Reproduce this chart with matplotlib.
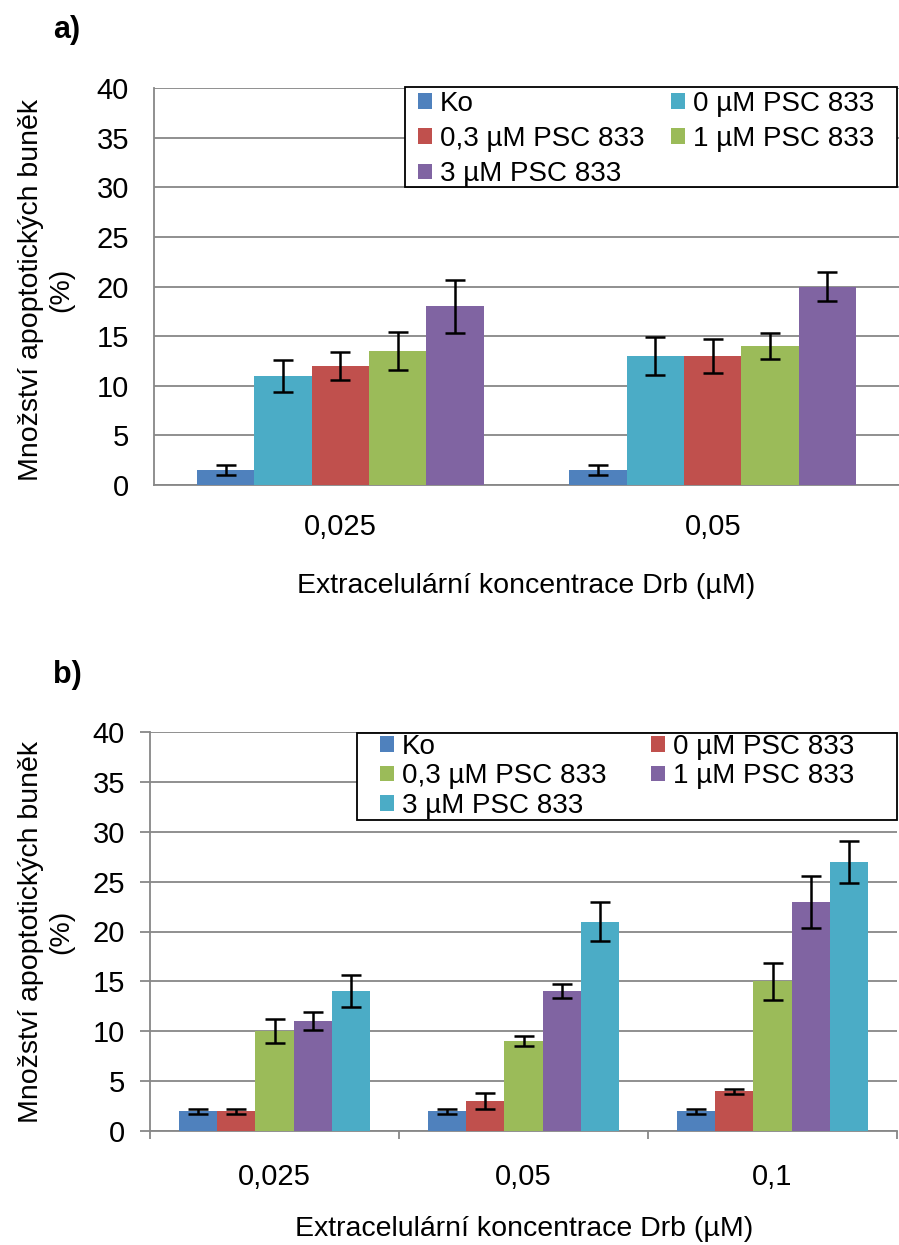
import numpy as np
import matplotlib
matplotlib.use("Agg")
from matplotlib import pyplot as plt
from matplotlib.patches import Rectangle

plt.rcParams['font.family'] = ['Liberation Sans', 'DejaVu Sans']

# panel a) data
cats_a = ['0,025', '0,05']
labels_a = ['Ko', '0 µM PSC 833', '0,3 µM PSC 833', '1 µM PSC 833', '3 µM PSC 833']
vals_a = [[1.5, 1.5], [11, 13], [12, 13], [13.5, 14], [18, 20]]
err_a = [[0.5, 0.5], [1.6, 1.9], [1.4, 1.7], [1.9, 1.3], [2.7, 1.5]]
colors_a = ['#4F81BD', '#4BACC6', '#C0504D', '#9BBB59', '#8064A2']

# panel b) data
cats_b = ['0,025', '0,05', '0,1']
labels_b = ['Ko', '0 µM PSC 833', '0,3 µM PSC 833', '1 µM PSC 833', '3 µM PSC 833']
vals_b = [[2, 2, 2], [2, 3, 4], [10, 9, 15], [11, 14, 23], [14, 21, 27]]
err_b = [[0.25, 0.25, 0.25], [0.25, 0.8, 0.25], [1.2, 0.5, 1.85], [0.9, 0.7, 2.6], [1.6, 2.0, 2.1]]
colors_b = ['#4F81BD', '#C0504D', '#9BBB59', '#8064A2', '#4BACC6']

yticks = [0, 5, 10, 15, 20, 25, 30, 35, 40]
xlab = 'Extracelulární koncentrace Drb (µM)'
ylab = 'Množství apoptotických buněk\n(%)'
FS_TICK = 21
FS_LAB = 20.5
FS_LEG = 20
GRID = '#878787'

W, H = 899, 1245
fig = plt.figure(figsize=(W / 100, H / 100), dpi=100)


def px_axes(left, top, right, bottom):
    return fig.add_axes([left / W, 1 - bottom / H, (right - left) / W, (bottom - top) / H])


def draw_panel(ax, cats, labels, vals, errs, colors, ticks_out):
    n = len(labels)
    x = np.arange(len(cats))
    bw = 1 / (n + 1.5)  # gap width 150 %
    handles = []
    for i in range(n):
        pos = x + (i - (n - 1) / 2) * bw
        b = ax.bar(pos, vals[i], bw, color=colors[i], edgecolor='none', zorder=3,
                   label=labels[i])
        ax.errorbar(pos, vals[i], yerr=errs[i], fmt='none', ecolor='black',
                    elinewidth=1.8, capsize=7, capthick=1.8, zorder=4)
        handles.append(b)
    ax.set_xlim(-0.5, len(cats) - 0.5)
    ax.set_ylim(0, 40)
    ax.set_yticks(yticks)
    ax.set_yticklabels([str(t) for t in yticks], fontsize=FS_TICK)
    ax.set_xticks(x)
    ax.set_xticklabels(cats, fontsize=FS_TICK)
    ax.yaxis.grid(True, color=GRID, lw=1.3, zorder=0)
    ax.set_axisbelow(True)
    for s in ['top', 'right']:
        ax.spines[s].set_visible(False)
    for s in ['left', 'bottom']:
        ax.spines[s].set_color(GRID)
        ax.spines[s].set_linewidth(1.3)
    if ticks_out:
        ax.tick_params(axis='y', length=7, width=1.3, color=GRID, pad=11)
        ax.set_xticks(np.arange(-0.5, len(cats), 1.0), minor=True)
        ax.tick_params(axis='x', which='minor', length=6, width=1.3, color=GRID)
        ax.tick_params(axis='x', which='major', length=0, pad=23)
    else:
        ax.tick_params(axis='y', length=0, pad=18)
        ax.tick_params(axis='x', length=0, pad=20)
    return handles


def add_legend(ax, handles, labels, box, anchor, colspace, rowspace):
    # frame drawn separately so the paddings can differ per side
    l, t, r, b = box
    ax.add_patch(Rectangle((l / W, 1 - b / H), (r - l) / W, (b - t) / H,
                           transform=fig.transFigure, facecolor='white',
                           edgecolor='black', lw=1.3, zorder=4.9, clip_on=False))
    order = [0, 2, 4, 1, 3]
    leg = ax.legend([handles[i] for i in order], [labels[i] for i in order], ncol=2,
                    loc='upper left', bbox_to_anchor=(anchor[0] / W, 1 - anchor[1] / H),
                    bbox_transform=fig.transFigure, fontsize=FS_LEG,
                    handlelength=0.5, handleheight=0.5, handletextpad=0.3,
                    columnspacing=colspace, labelspacing=rowspace, borderpad=0,
                    borderaxespad=0, frameon=False)
    leg.set_zorder(5)
    return leg


# panel a
ax1 = px_axes(154, 88, 899, 485)
h1 = draw_panel(ax1, cats_a, labels_a, vals_a, err_a, colors_a, False)
add_legend(ax1, h1, labels_a, (405, 87, 897, 187), (418, 91), 0.95, 0.33)

# panel b
ax2 = px_axes(150, 732, 897, 1131)
h2 = draw_panel(ax2, cats_b, labels_b, vals_b, err_b, colors_b, True)
add_legend(ax2, h2, labels_b, (357, 733, 897, 820), (380, 734), 1.6, 0.12)

# labels and panel letters
for yc in (290, 932):
    fig.text(46 / W, 1 - yc / H, ylab, rotation=90, ha='center', va='center',
             multialignment='center', fontsize=FS_LAB, linespacing=1.2)
fig.text(526 / W, 1 - 586 / H, xlab, ha='center', va='center', fontsize=FS_LAB)
fig.text(524 / W, 1 - 1229 / H, xlab, ha='center', va='center', fontsize=FS_LAB)
fig.text(53 / W, 1 - 30 / H, 'a)', ha='left', va='center', fontsize=22, fontweight='bold')
fig.text(53 / W, 1 - 675 / H, 'b)', ha='left', va='center', fontsize=22, fontweight='bold')

fig.savefig('out.png', dpi=100)
